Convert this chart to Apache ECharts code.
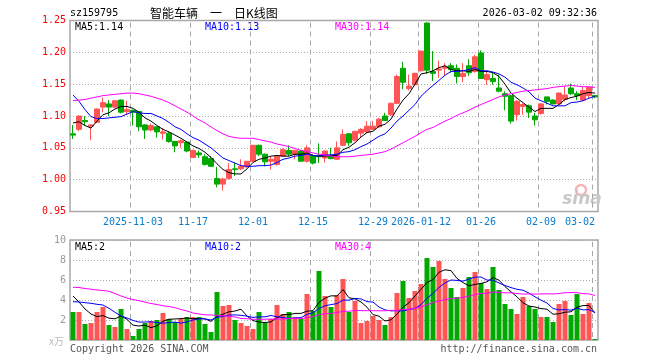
<!DOCTYPE html>
<html><head><meta charset="utf-8">
<script src="https://cdn.jsdelivr.net/npm/echarts@6/dist/echarts.min.js"></script>
<style>html,body{margin:0;padding:0;background:#fff}#c{width:660px;height:360px}</style>
</head><body><div id="c"></div>
<script>
const dates = [
'2025-10-20','2025-10-21','2025-10-22','2025-10-23','2025-10-24','2025-10-27','2025-10-28','2025-10-29','2025-10-30','2025-10-31',
'2025-11-03','2025-11-04','2025-11-05','2025-11-06','2025-11-07','2025-11-10','2025-11-11','2025-11-12','2025-11-13','2025-11-14',
'2025-11-17','2025-11-18','2025-11-19','2025-11-20','2025-11-21','2025-11-24','2025-11-25','2025-11-26','2025-11-27','2025-11-28',
'2025-12-01','2025-12-02','2025-12-03','2025-12-04','2025-12-05','2025-12-08','2025-12-09','2025-12-10','2025-12-11','2025-12-12',
'2025-12-15','2025-12-16','2025-12-17','2025-12-18','2025-12-19','2025-12-22','2025-12-23','2025-12-24','2025-12-25','2025-12-26',
'2025-12-29','2025-12-30','2025-12-31','2026-01-05','2026-01-06','2026-01-07','2026-01-08','2026-01-09','2026-01-12','2026-01-13',
'2026-01-14','2026-01-15','2026-01-16','2026-01-19','2026-01-20','2026-01-21','2026-01-22','2026-01-23','2026-01-26','2026-01-27',
'2026-01-28','2026-01-29','2026-01-30','2026-02-02','2026-02-03','2026-02-04','2026-02-05','2026-02-06','2026-02-09','2026-02-10',
'2026-02-11','2026-02-12','2026-02-13','2026-02-24','2026-02-25','2026-02-26','2026-02-27','2026-03-02'];

const open = [
1.072,1.079,1.093,1.084,1.090,1.114,1.119,1.114,1.125,1.107,
1.109,1.107,1.086,1.078,1.083,1.073,1.073,1.060,1.058,1.059,
1.035,1.042,1.036,1.033,1.002,0.993,1.002,1.017,1.017,1.020,
1.029,1.054,1.040,1.029,1.024,1.037,1.046,1.040,1.045,1.029,
1.038,1.038,1.034,1.037,1.032,1.054,1.072,1.062,1.073,1.075,
1.079,1.083,1.100,1.102,1.120,1.175,1.143,1.149,1.171,1.246,
1.170,1.172,1.175,1.179,1.175,1.162,1.179,1.170,1.199,1.157,
1.159,1.144,1.135,1.132,1.102,1.115,1.116,1.100,1.104,1.130,
1.125,1.119,1.126,1.144,1.135,1.125,1.132,1.132];
const close = [
1.070,1.100,1.091,1.086,1.111,1.121,1.114,1.124,1.106,1.110,
1.106,1.083,1.078,1.085,1.075,1.075,1.060,1.053,1.061,1.045,
1.046,1.039,1.024,1.021,0.993,1.001,1.016,1.016,1.021,1.029,
1.054,1.040,1.028,1.032,1.037,1.047,1.040,1.046,1.029,1.050,
1.026,1.036,1.045,1.033,1.050,1.071,1.058,1.076,1.079,1.084,
1.084,1.095,1.093,1.120,1.162,1.153,1.147,1.167,1.202,1.172,
1.167,1.174,1.178,1.173,1.162,1.167,1.168,1.193,1.159,1.165,
1.154,1.139,1.131,1.092,1.123,1.118,1.106,1.094,1.119,1.123,
1.119,1.136,1.133,1.135,1.132,1.140,1.145,1.130];
const low = [
1.064,1.076,1.085,1.062,1.089,1.106,1.100,1.112,1.104,1.102,
1.085,1.076,1.064,1.076,1.066,1.063,1.058,1.043,1.050,1.043,
1.034,1.034,1.022,1.020,0.988,0.983,1.000,1.006,1.015,1.019,
1.027,1.037,1.021,1.016,1.022,1.036,1.037,1.032,1.028,1.027,
1.024,1.026,1.027,1.032,1.031,1.053,1.053,1.060,1.067,1.073,
1.078,1.081,1.092,1.100,1.119,1.142,1.140,1.147,1.170,1.166,
1.155,1.160,1.163,1.168,1.151,1.153,1.163,1.168,1.158,1.149,
1.149,1.137,1.109,1.088,1.093,1.102,1.097,1.085,1.102,1.118,
1.118,1.118,1.123,1.133,1.125,1.123,1.128,1.128];
const high = [
1.086,1.101,1.100,1.087,1.112,1.129,1.125,1.125,1.126,1.124,
1.110,1.108,1.087,1.088,1.083,1.081,1.075,1.061,1.063,1.060,
1.047,1.046,1.040,1.037,1.020,1.003,1.026,1.027,1.032,1.029,
1.054,1.055,1.041,1.037,1.038,1.050,1.054,1.047,1.046,1.054,
1.040,1.057,1.046,1.050,1.060,1.079,1.073,1.076,1.081,1.092,
1.092,1.097,1.105,1.121,1.165,1.185,1.165,1.168,1.202,1.247,
1.202,1.187,1.183,1.183,1.181,1.183,1.189,1.196,1.203,1.170,
1.168,1.165,1.139,1.132,1.125,1.120,1.118,1.105,1.120,1.130,
1.126,1.137,1.146,1.151,1.139,1.146,1.145,1.133];

const ma5 = [
1.089,1.091,1.085,1.081,1.092,1.102,1.105,1.111,1.115,1.115,
1.112,1.106,1.097,1.092,1.085,1.079,1.075,1.070,1.065,1.059,
1.053,1.049,1.043,1.035,1.025,1.016,1.011,1.009,1.009,1.017,
1.027,1.032,1.034,1.037,1.038,1.037,1.037,1.040,1.040,1.042,
1.038,1.037,1.037,1.038,1.038,1.047,1.051,1.058,1.067,1.074,
1.076,1.084,1.087,1.095,1.111,1.125,1.135,1.150,1.166,1.168,
1.171,1.176,1.179,1.173,1.171,1.171,1.170,1.173,1.170,1.170,
1.168,1.162,1.150,1.136,1.128,1.121,1.114,1.107,1.112,1.112,
1.112,1.118,1.126,1.129,1.131,1.135,1.137,1.136];
const ma10 = [
1.133,1.123,1.110,1.099,1.096,1.096,1.097,1.098,1.099,1.103,
1.107,1.105,1.104,1.104,1.100,1.096,1.090,1.083,1.079,1.072,
1.066,1.062,1.056,1.050,1.042,1.034,1.030,1.026,1.022,1.021,
1.021,1.022,1.022,1.023,1.027,1.032,1.034,1.037,1.038,1.040,
1.038,1.037,1.039,1.039,1.040,1.043,1.044,1.047,1.052,1.056,
1.062,1.068,1.072,1.081,1.092,1.100,1.109,1.118,1.131,1.140,
1.148,1.156,1.164,1.170,1.170,1.171,1.173,1.176,1.171,1.171,
1.169,1.166,1.161,1.153,1.149,1.144,1.138,1.128,1.124,1.120,
1.116,1.116,1.116,1.121,1.122,1.124,1.128,1.131];
const ma30 = [
1.124,1.125,1.126,1.128,1.130,1.132,1.133,1.134,1.135,1.136,
1.136,1.135,1.133,1.131,1.128,1.125,1.121,1.116,1.111,1.106,
1.100,1.094,1.089,1.083,1.077,1.072,1.068,1.066,1.065,1.065,
1.065,1.063,1.061,1.059,1.056,1.054,1.052,1.049,1.046,1.044,
1.042,1.040,1.039,1.037,1.036,1.036,1.036,1.037,1.038,1.039,
1.040,1.042,1.044,1.048,1.053,1.058,1.063,1.068,1.074,1.079,
1.082,1.087,1.092,1.096,1.101,1.105,1.109,1.114,1.118,1.122,
1.126,1.130,1.133,1.135,1.137,1.139,1.140,1.141,1.142,1.143,
1.145,1.146,1.147,1.148,1.147,1.146,1.146,1.145];

const vol = [
2.8,2.8,1.6,1.7,2.8,3.3,1.5,1.3,3.1,1.1,
0.4,1.1,1.7,1.9,2.0,2.7,2.1,1.8,2.1,2.3,
2.3,2.3,1.6,0.8,4.8,3.4,3.5,2.0,1.7,1.4,
1.1,2.8,1.7,2.1,3.5,2.6,2.8,2.3,2.1,4.6,
2.9,6.9,4.4,3.3,4.5,6.1,2.8,3.9,1.7,1.9,
2.4,2.0,1.5,2.3,4.7,5.9,4.2,4.9,5.6,8.2,
7.3,7.9,6.1,5.2,4.3,5.2,6.3,6.8,5.7,5.1,
7.3,5.0,3.6,3.1,2.6,4.3,3.4,3.1,2.3,2.3,
1.8,3.6,3.9,2.5,4.6,2.6,3.7,0.1];
const vma5 = [
4.4,3.8,3.1,2.6,2.34,2.44,2.18,2.12,2.40,2.06,
1.48,1.40,1.48,1.24,1.42,1.88,2.08,2.10,2.14,2.20,
2.12,2.16,2.12,1.86,2.36,2.58,2.82,2.90,3.08,2.40,
1.94,1.80,1.74,1.82,2.24,2.54,2.54,2.66,2.66,2.88,
2.94,3.76,4.18,4.42,4.40,5.04,4.22,4.12,3.80,3.28,
2.54,2.38,1.90,2.02,2.58,3.28,3.72,4.40,5.06,5.76,
6.04,6.78,7.02,6.94,6.16,5.74,5.42,5.56,5.66,5.82,
6.24,5.98,5.34,4.82,4.32,3.72,3.40,3.30,3.14,3.08,
2.58,2.62,2.78,2.82,3.28,3.44,3.46,2.70];
const vma10 = [
3.83,3.80,3.73,3.67,3.57,3.50,3.17,2.77,2.40,2.20,
1.96,1.79,1.80,1.82,1.74,1.68,1.74,1.79,1.69,1.81,
2.00,2.12,2.11,2.00,2.28,2.35,2.49,2.51,2.47,2.38,
2.26,2.31,2.32,2.45,2.32,2.24,2.17,2.20,2.24,2.56,
2.74,3.15,3.42,3.54,3.64,3.99,3.99,4.15,4.11,3.84,
3.79,3.30,3.01,2.91,2.93,2.91,3.05,3.15,3.54,4.17,
4.66,5.25,5.71,6.00,5.96,5.89,6.10,6.29,6.30,5.99,
5.99,5.70,5.45,5.24,5.07,4.98,4.69,4.32,3.98,3.70,
3.15,3.01,3.04,2.98,3.18,3.01,3.04,2.74];
const vma30 = [
5.27,5.25,5.15,5.08,5.00,4.95,4.87,4.65,4.40,4.20,
4.05,3.93,3.78,3.65,3.55,3.43,3.35,3.23,3.05,2.90,
2.70,2.60,2.52,2.50,2.47,2.42,2.37,2.30,2.15,2.13,
2.07,2.07,2.08,2.09,2.11,2.09,2.13,2.17,2.13,2.25,
2.33,2.53,2.62,2.66,2.75,2.86,2.88,2.95,2.94,2.93,
2.93,2.92,2.92,2.97,2.96,3.05,3.07,3.17,3.30,3.52,
3.73,3.90,4.05,4.15,4.18,4.26,4.38,4.53,4.65,4.67,
4.81,4.75,4.72,4.72,4.65,4.59,4.61,4.59,4.61,4.62,
4.60,4.65,4.73,4.74,4.74,4.63,4.61,4.45];

const tickDates = ['2025-11-03','2025-11-17','2025-12-01','2025-12-15','2025-12-29','2026-01-12','2026-01-26','2026-02-09','2026-03-02'];
const tickTexts = ['2025-11-03','11-17','12-01','12-15','12-29','2026-01-12','01-26','02-09','03-02'];

const MONO = '"DejaVu Sans Mono", monospace';
const RED = '#ff5555', GREEN = '#00a800';
const tickMap = {};
tickDates.forEach((d, k) => { tickMap[d] = tickTexts[k]; });
const isTickIdx = (idx) => tickMap[dates[idx]] !== undefined;
const tickIndex = tickDates.map(d => dates.indexOf(d));

const candleData = dates.map((d, i) => [open[i], close[i], low[i], high[i]]);
const volData = vol.map((v, i) => ({ value: v, itemStyle: { color: close[i] >= open[i] ? RED : GREEN } }));

// dashed vertical grid lines at the labelled dates, x taken from the category axis
const gridLineSeries = (xi) => ({
  type: 'custom', xAxisIndex: xi, yAxisIndex: xi, z: 1, silent: true, clip: false,
  data: tickIndex.map(i => [i, xi === 0 ? 1.1 : 5]),
  renderItem: (params, api) => {
    const cs = params.coordSys;
    const band = api.size([1, 0])[0];
    const x = Math.round(api.coord([api.value(0), api.value(1)])[0] - band / 2) + 0.5;
    const children = [];
    const bottom = cs.y + cs.height;
    for (let y = cs.y + 2; y < bottom; y += 9) {
      children.push({ type: 'line', shape: { x1: x, y1: y, x2: x, y2: Math.min(y + 5, bottom) },
                      style: { stroke: '#a6a6a6', lineWidth: 1 } });
    }
    return { type: 'group', children };
  }
});
const lineS = (name, data, color, xi) => ({
  name, type: 'line', data, xAxisIndex: xi, yAxisIndex: xi, showSymbol: false, symbol: 'none',
  lineStyle: { color, width: 1 }, itemStyle: { color }, z: 3, silent: true, animation: false
});

const txt = (x, y, text, color, font, align) => ({
  type: 'text', x, y, silent: true,
  style: { text, fill: color, font, align: align || 'left', verticalAlign: 'middle' }
});

const chart = echarts.init(document.getElementById('c'), null, { renderer: 'canvas' });
chart.setOption({
  animation: false,
  backgroundColor: '#ffffff',
  grid: [
    { left: 70, top: 20.5, width: 528, height: 191, show: true, borderColor: '#a8a8a8', borderWidth: 1.5, backgroundColor: 'transparent' },
    { left: 70, top: 240, width: 528, height: 100, show: true, borderColor: '#a8a8a8', borderWidth: 1.5, backgroundColor: 'transparent' }
  ],
  xAxis: [
    { type: 'category', gridIndex: 0, data: dates, boundaryGap: true,
      axisLine: { show: false }, axisTick: { show: false },
      axisLabel: { interval: isTickIdx, formatter: v => tickMap[v] || '', color: '#0a7ccc', fontFamily: MONO, fontSize: 10, margin: 6, alignMaxLabel: 'right' },
      splitLine: { show: false } },
    { type: 'category', gridIndex: 1, data: dates, boundaryGap: true,
      axisLine: { show: false }, axisTick: { show: false }, axisLabel: { show: false }, splitLine: { show: false } }
  ],
  yAxis: [
    { type: 'value', gridIndex: 0, min: 0.95, max: 1.25, interval: 0.05,
      axisLine: { show: false }, axisTick: { show: false },
      axisLabel: { color: '#ff0000', fontFamily: MONO, fontSize: 10, margin: 4, formatter: v => v.toFixed(2) },
      splitLine: { show: true, lineStyle: { color: '#aaaaaa', type: [1, 2], width: 1 } } },
    { type: 'value', gridIndex: 1, min: 0, max: 10, interval: 2,
      axisLine: { show: false }, axisTick: { show: false },
      axisLabel: { color: '#999999', fontFamily: MONO, fontSize: 10, margin: 4, formatter: v => v === 0 ? '' : String(v) },
      splitLine: { show: true, lineStyle: { color: '#aaaaaa', type: [1, 2], width: 1 } } }
  ],
  series: [
    gridLineSeries(0),
    gridLineSeries(1),
    { name: 'K', type: 'candlestick', xAxisIndex: 0, yAxisIndex: 0, data: candleData, barWidth: 5, z: 2, silent: true,
      itemStyle: { color: RED, color0: GREEN, borderColor: RED, borderColor0: GREEN, borderWidth: 1 } },
    lineS('MA5', ma5, '#000000', 0),
    lineS('MA10', ma10, '#0000ff', 0),
    lineS('MA30', ma30, '#ff00ff', 0),
    { name: 'VOL', type: 'bar', xAxisIndex: 1, yAxisIndex: 1, data: volData, barWidth: 5, z: 2, silent: true },
    lineS('VMA5', vma5, '#000000', 1),
    lineS('VMA10', vma10, '#0000ff', 1),
    lineS('VMA30', vma30, '#ff00ff', 1)
  ],
  graphic: [
    txt(70, 13, 'sz159795', '#000', '10px ' + MONO),
    txt(150, 13, '智能车辆\u3000一\u3000日K线图', '#000', '12px "Noto Sans CJK SC"'),
    txt(597, 13, '2026-03-02 09:32:36', '#000', '10px ' + MONO, 'right'),
    txt(75, 27, 'MA5:1.14', '#000', '10px ' + MONO),
    txt(205, 27, 'MA10:1.13', '#0000ff', '10px ' + MONO),
    txt(335, 27, 'MA30:1.14', '#ff00ff', '10px ' + MONO),
    txt(75, 247, 'MA5:2', '#000', '10px ' + MONO),
    txt(205, 247, 'MA10:2', '#0000ff', '10px ' + MONO),
    txt(335, 247, 'MA30:4', '#ff00ff', '10px ' + MONO),
    txt(64, 341, 'x万', '#bbbbbb', '10px "Noto Sans CJK SC"', 'right'),
    txt(70, 349, 'Copyright 2026 SINA.COM', '#555', '10px ' + MONO),
    txt(597, 349, 'http://finance.sina.com.cn', '#555', '10px ' + MONO, 'right'),
    { type: 'circle', silent: true, shape: { cx: 581, cy: 190, r: 5 }, style: { fill: 'none', stroke: '#f2b5b5', lineWidth: 2.5 } },
    txt(582, 200, 'sina', '#c8c8c8', 'italic bold 17px "DejaVu Sans"', 'center')
  ]
});
</script>
</body></html>
